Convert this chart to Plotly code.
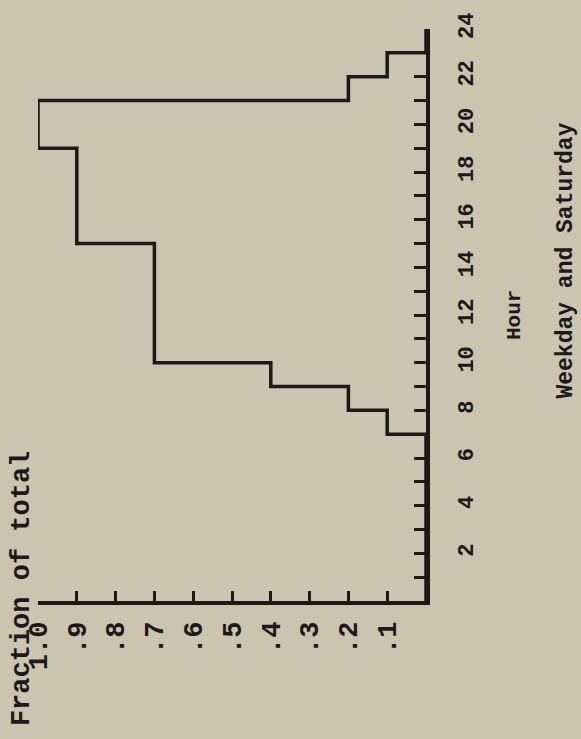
import plotly.graph_objects as go

# ---- data ----
hour_starts = [0, 7, 8, 9, 10, 15, 19, 21, 22, 23, 24]
fractions = [0.0, 0.1, 0.2, 0.4, 0.7, 0.9, 1.0, 0.2, 0.1, 0.0, 0.0]

fraction_ticks = [0.1, 0.2, 0.3, 0.4, 0.5, 0.6, 0.7, 0.8, 0.9, 1.0]
fraction_labels = [".1", ".2", ".3", ".4", ".5", ".6", ".7", ".8", ".9", "1.0"]
hour_ticks = [1, 2, 3, 4, 5, 6, 7, 8, 9, 10, 11, 12,
              13, 14, 15, 16, 17, 18, 19, 20, 21, 22, 23, 24]
hour_labels = ["", "2", "", "4", "", "6", "", "8", "", "10", "", "12",
               "", "14", "", "16", "", "18", "", "20", "", "22", "", "24"]

# ---- style ----
BG = "rgb(202,196,177)"
INK = "rgb(30,24,24)"
FONT = "Liberation Mono"
W, H = 581, 739
L, R, T, B = 38, W - 426, 23, H - 601


def px(x):
    return (x - L) / (W - L - R)


def py(y):
    return (H - B - y) / (H - T - B)


fig = go.Figure()
fig.add_trace(go.Scatter(
    x=fractions, y=hour_starts, mode="lines",
    line=dict(shape="vh", color=INK, width=3.5),
    cliponaxis=False, hoverinfo="skip", showlegend=False,
))

axis_common = dict(
    showgrid=False, zeroline=False, showline=True, linecolor=INK, linewidth=3.5,
    ticks="inside", tickcolor=INK, tickwidth=3, tickangle=-90,
)

fig.update_layout(
    width=W, height=H,
    margin=dict(l=L, r=R, t=T, b=B, pad=0),
    paper_bgcolor=BG, plot_bgcolor=BG,
    showlegend=False,
    xaxis=dict(
        range=[1.0, 0.0], tickvals=fraction_ticks, ticktext=fraction_labels,
        ticklen=10, tickfont=dict(family=FONT, size=27, color=INK, weight="bold"),
        ticklabelstandoff=6, **axis_common,
    ),
    yaxis=dict(
        range=[0, 24], side="right", tickvals=hour_ticks, ticktext=hour_labels,
        ticklen=12, tickfont=dict(family=FONT, size=22, color=INK, weight="bold"),
        ticklabelstandoff=17, **axis_common,
    ),
    annotations=[
        dict(text="Fraction of total", xref="paper", yref="paper",
             x=px(22), y=py(589), xanchor="center", yanchor="middle",
             textangle=-90, showarrow=False,
             font=dict(family=FONT, size=27, color=INK, weight="bold")),
        dict(text="Hour", xref="paper", yref="paper",
             x=px(514), y=py(312), xanchor="center", yanchor="middle",
             textangle=-90, showarrow=False,
             font=dict(family=FONT, size=21, color=INK, weight="bold")),
        dict(text="Weekday and Saturday", xref="paper", yref="paper",
             x=px(566), y=py(257), xanchor="center", yanchor="middle",
             textangle=-90, showarrow=False,
             font=dict(family=FONT, size=23, color=INK, weight="bold")),
    ],
)

fig.write_html("out.html")
